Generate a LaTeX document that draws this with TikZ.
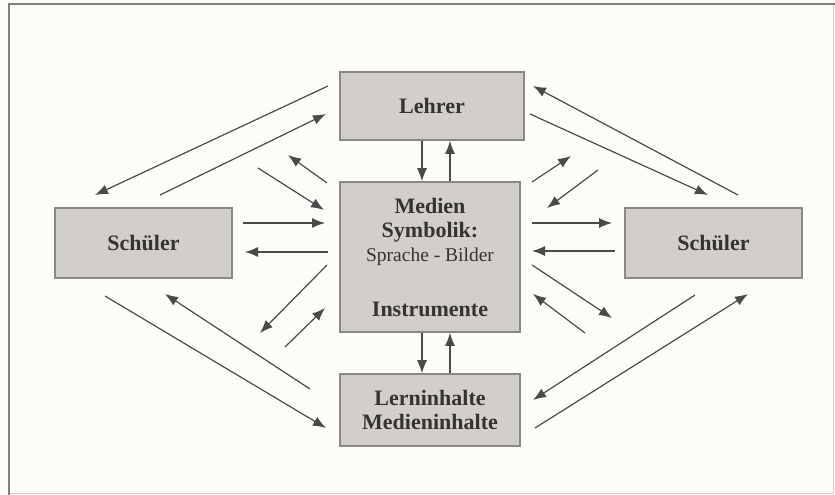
\documentclass[tikz,border=0pt]{standalone}
\usepackage{fontspec}
\setmainfont{Liberation Serif}
\usetikzlibrary{arrows.meta}

\definecolor{boxfill}{HTML}{D2CFCA}
\definecolor{boxline}{HTML}{8A8884}
\definecolor{arrowgray}{HTML}{4A4A4A}
\definecolor{paper}{HTML}{FCFCF8}

\tikzset{
    box/.style={draw=boxline, fill=boxfill, line width=1.6pt, align=center,
        font=\fontsize{22}{24}\selectfont\bfseries, text=black!80},
    flow/.style={draw=arrowgray, line width=1.2pt, -{Latex[length=13pt,width=10pt]}}
}

\begin{document}
\begin{tikzpicture}[x=1pt,y=-1pt]
        \useasboundingbox (0,0) rectangle (835,495);
        \fill[paper] (0,0) rectangle (835,495);
        \draw[gray!40, line width=1pt] (833,4) -- (833,493) -- (9,493);
        \draw[gray, line width=2.2pt] (9,495) -- (9,4) -- (835,4);

        % boxes
        \node[box, minimum width=184pt, minimum height=68pt] (lehrer) at (432,106) {Lehrer};
        \node[box, minimum width=180pt, minimum height=150pt] (medien) at (430,257)
            {Medien\\Symbolik:\\{\mdseries\fontsize{19.5}{24}\selectfont Sprache - Bilder}\\[31pt]Instrumente};
        \node[box, minimum width=177pt, minimum height=70pt] (schuelerL) at (143.5,243) {Schüler};
        \node[box, minimum width=177pt, minimum height=70pt] (schuelerR) at (713.5,243) {Schüler};
        \node[box, minimum width=180pt, minimum height=72pt] (inhalte) at (430,410) {Lerninhalte\\Medieninhalte};

        % vertical arrows
        \coordinate (LMdown) at (422,0 |- lehrer.south);
        \coordinate (LMdownE) at (422,0 |- medien.north);
        \coordinate (LMup) at (450,0 |- medien.north);
        \coordinate (LMupE) at (450,0 |- lehrer.south);
        \coordinate (MIdown) at (422,0 |- medien.south);
        \coordinate (MIdownE) at (422,0 |- inhalte.north);
        \coordinate (MIup) at (450,0 |- inhalte.north);
        \coordinate (MIupE) at (450,0 |- medien.south);

        \draw[flow] (LMdown) -- (LMdownE);
        \draw[flow] (LMup) -- (LMupE);
        \draw[flow] (MIdown) -- (MIdownE);
        \draw[flow] (MIup) -- (MIupE);

        % long diagonals, left
        \coordinate (A1) at (328,86);
        \coordinate (A2) at (95,195);
        \coordinate (B1) at (160,195);
        \coordinate (B2) at (326,114);
        \coordinate (C1) at (105,296);
        \coordinate (C2) at (326,428);
        \coordinate (D1) at (310,389);
        \coordinate (D2) at (165,294);

        % long diagonals, right
        \coordinate (E1) at (530,114);
        \coordinate (E2) at (708,195);
        \coordinate (F1) at (738,195);
        \coordinate (F2) at (533,86);
        \coordinate (G1) at (695,295);
        \coordinate (G2) at (533,400);
        \coordinate (H1) at (535,428);
        \coordinate (H2) at (748,294);

        \draw[flow] (A1) -- (A2);
        \draw[flow] (B1) -- (B2);
        \draw[flow] (C1) -- (C2);
        \draw[flow] (D1) -- (D2);
        \draw[flow] (E1) -- (E2);
        \draw[flow] (F1) -- (F2);
        \draw[flow] (G1) -- (G2);
        \draw[flow] (H1) -- (H2);

        % short arrows, left of Medien
        \draw[flow] (327,183) -- (288,155);
        \draw[flow] (258,168) -- (324,210);
        \draw[flow] (243,223) -- (325,223);
        \draw[flow] (328,252) -- (245,252);
        \draw[flow] (327,265) -- (260,333);
        \draw[flow] (285,347) -- (325,308);

        % short arrows, right of Medien
        \draw[flow] (532,182) -- (571,156);
        \draw[flow] (598,170) -- (547,208);
        \draw[flow] (532,223) -- (612,223);
        \draw[flow] (615,251) -- (532,251);
        \draw[flow] (532,265) -- (612,318);
        \draw[flow] (585,333) -- (533,294);
    \end{tikzpicture}
\end{document}
